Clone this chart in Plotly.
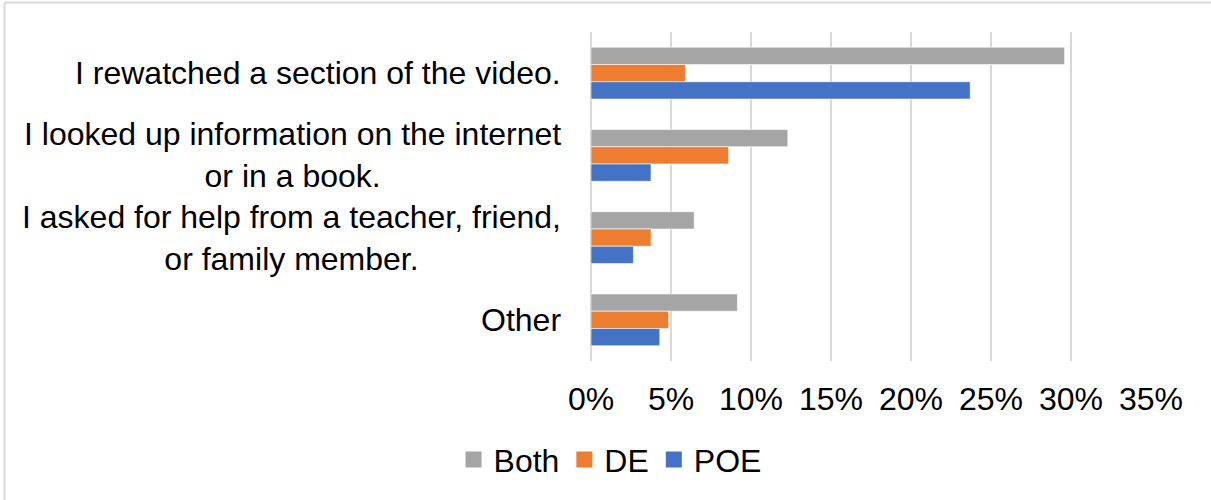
import plotly.graph_objects as go

categories = [
    "I rewatched a section of the video.",
    "I looked up information on the internet<br>or in a book.",
    "I asked for help from a teacher, friend,<br>or family member.",
    "Other",
]
both = [0.296, 0.123, 0.0645, 0.0915]
de = [0.059, 0.086, 0.0375, 0.0485]
poe = [0.237, 0.0375, 0.0265, 0.043]
series_names = ["Both", "DE", "POE"]
colors = ["#A5A5A5", "#ED7D31", "#4472C4"]
x_ticks = [0, 0.05, 0.10, 0.15, 0.20, 0.25, 0.30, 0.35]

FONT = "Liberation Sans, Arial, sans-serif"
FS = 32

fig = go.Figure()
for name, vals, col in zip(series_names, [both, de, poe], colors):
    fig.add_trace(go.Bar(
        y=categories, x=vals, name=name, orientation="h", showlegend=False,
        marker=dict(color=col, line=dict(color="rgba(255,255,255,0.6)", width=1)),
    ))
# legend entries with larger square swatches
for name, col in zip(series_names, colors):
    fig.add_trace(go.Scatter(
        x=[None], y=[None], mode="markers", name=name,
        marker=dict(symbol="square", size=17, color=col),
    ))

annotations = []
for c in categories:
    annotations.append(dict(
        x=0, xref="x", y=c, yref="y", text=c, showarrow=False,
        xanchor="right", yanchor="middle", align="center", xshift=-28,
        font=dict(family=FONT, size=FS, color="#000000"),
    ))

fig.update_layout(
    width=1211, height=500,
    margin=dict(l=591, r=60, t=32, b=139),
    paper_bgcolor="white", plot_bgcolor="white",
    barmode="group", bargap=0.37, bargroupgap=0,
    font=dict(family=FONT, size=FS, color="#000000"),
    showlegend=True,
    legend=dict(orientation="h", x=0.034, xanchor="center", y=-0.30, yanchor="middle",
                font=dict(family=FONT, size=FS, color="#000000"),
                traceorder="normal", itemwidth=30, tracegroupgap=0),
    xaxis=dict(range=[0, 0.35], tickvals=x_ticks, tickformat=".0%",
               showgrid=True, gridcolor="#D9D9D9", gridwidth=2,
               zeroline=True, zerolinecolor="#D9D9D9", zerolinewidth=2,
               showline=False, ticks="", ticklabelstandoff=16,
               tickfont=dict(family=FONT, size=FS, color="#000000")),
    yaxis=dict(autorange="reversed", showticklabels=False, showgrid=False,
               zeroline=False, showline=False, ticks=""),
    annotations=annotations,
    shapes=[
        dict(type="line", xref="paper", yref="paper",
             x0=(4.5 - 591) / 560, x1=(1220 - 591) / 560,
             y0=1 + (32 - 2.5) / 329, y1=1 + (32 - 2.5) / 329,
             line=dict(color="#D9D9D9", width=2)),
        dict(type="line", xref="paper", yref="paper",
             x0=(4.5 - 591) / 560, x1=(4.5 - 591) / 560,
             y0=1 + (32 - 2.5) / 329, y1=(361 - 505) / 329,
             line=dict(color="#D9D9D9", width=2)),
    ],
)

fig.write_html("out.html", config={"displayModeBar": False},
               post_script="document.body.style.margin='0px';")
